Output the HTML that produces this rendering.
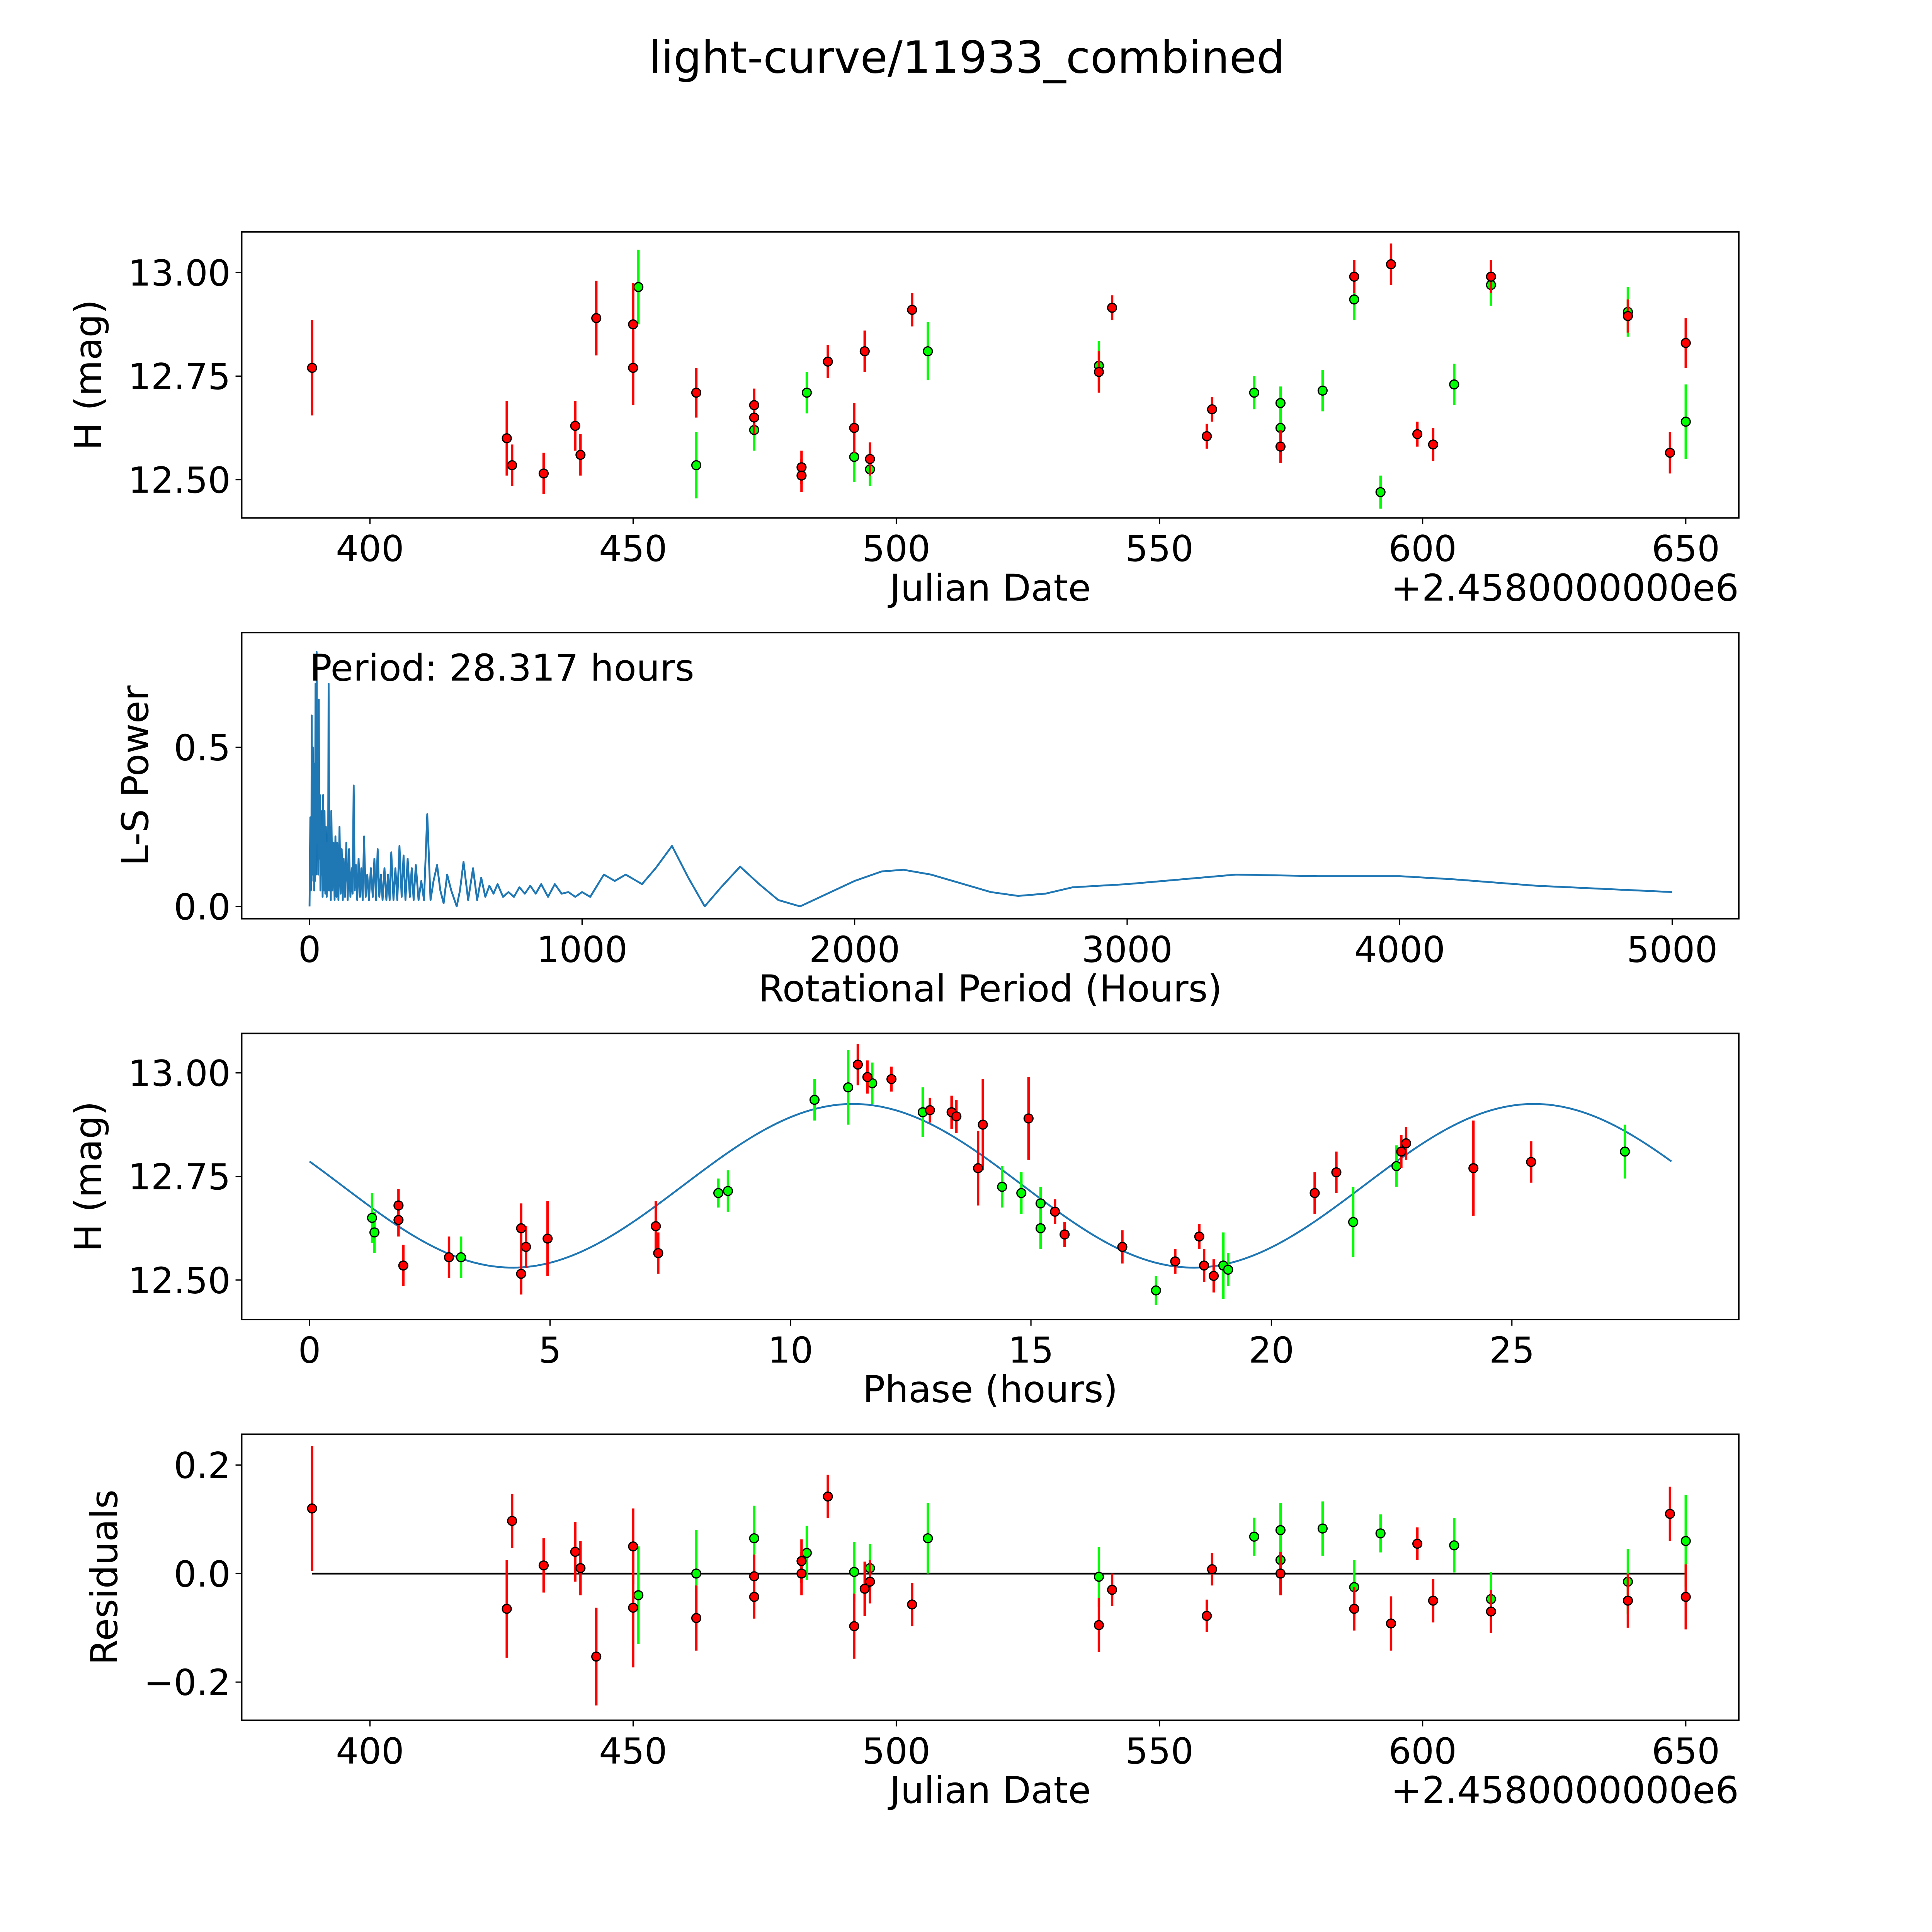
<!DOCTYPE html>
<html><head><meta charset="utf-8"><style>
html,body{margin:0;padding:0;background:#fff;overflow:hidden;}
svg{display:block;font-family:"DejaVu Sans","Liberation Sans",sans-serif;}
</style></head><body>
<svg id="fig" width="5400" height="5400" viewBox="0 0 1692 1692" xmlns="http://www.w3.org/2000/svg">
<rect width="1692" height="1692" fill="#fff"/>
<text x="784" y="59" font-size="36" text-anchor="middle">light-curve/11933_combined</text>
</svg>
<script>
// ---------- data ----------
const lcRedDate=[389,426,427,433,439,440,443,450,450,462,473,473,482,482,487,492,494,495,503,538.5,541,559,560,573,587,594,599,602,613,639,647,650];
const lcRedMag=[12.77,12.60,12.535,12.515,12.63,12.56,12.89,12.875,12.77,12.71,12.68,12.65,12.53,12.51,12.785,12.625,12.81,12.55,12.91,12.76,12.915,12.605,12.67,12.58,12.99,13.02,12.61,12.585,12.99,12.895,12.565,12.83];
const lcRedErr=[0.115,0.09,0.05,0.05,0.06,0.05,0.09,0.1,0.09,0.06,0.04,0.04,0.04,0.04,0.04,0.06,0.05,0.04,0.04,0.05,0.03,0.03,0.03,0.04,0.04,0.05,0.03,0.04,0.04,0.04,0.05,0.06];
const lcGreenDate=[451,462,473,483,492,495,506,538.5,568,573,573,581,587,592,606,613,639,650];
const lcGreenMag=[12.965,12.535,12.62,12.71,12.555,12.525,12.81,12.775,12.71,12.685,12.625,12.715,12.935,12.47,12.73,12.97,12.905,12.64];
const lcGreenErr=[0.09,0.08,0.05,0.05,0.06,0.04,0.07,0.06,0.04,0.04,0.05,0.05,0.05,0.04,0.05,0.05,0.06,0.09];

const lsPeriod=[0,3,5,7,8,10,12,14,15,17,
18,20,22,24,26,28,30,32,34,36,
38,40,42,44,46,48,50,53,55,58,
60,63,65,68,70,73,75,78,80,84,
88,92,95,99,102,106,110,114,118,122,
125,130,135,140,145,150,155,158,162,166,
170,175,180,185,190,195,200,206,212,218,
225,232,238,244,250,256,262,268,275,282,
288,294,300,308,315,322,330,338,345,352,
360,368,375,382,390,400,410,420,432,444,
455,468,480,492,505,520,540,552,565,582,
600,615,630,645,660,675,690,710,730,750,
770,790,810,830,850,875,900,925,950,975,
1000,1030,1080,1120,1160,1220,1270,1330,1390,1450,
1510,1580,1650,1720,1800,1900,2000,2100,2180,2280,
2400,2500,2600,2700,2800,3000,3200,3400,3700,4000,
4200,4500,4750,5000];
const lsPower=[0,0.28,0.05,0.2,0.6,0.1,0.5,0.08,0.45,0.05,
0.3,0.08,0.7,0.1,0.8,0.2,0.4,0.1,0.65,0.15,
0.35,0.05,0.3,0.1,0.25,0.03,0.35,0.05,0.3,0.04,
0.25,0.03,0.2,0.05,0.7,0.05,0.25,0.02,0.3,0.05,
0.2,0.02,0.22,0.03,0.2,0.02,0.25,0.04,0.18,0.02,
0.15,0.03,0.2,0.02,0.18,0.03,0.12,0.04,0.38,0.05,
0.13,0.02,0.15,0.03,0.12,0.02,0.22,0.03,0.1,0.02,
0.12,0.03,0.15,0.02,0.18,0.03,0.1,0.02,0.12,0.02,
0.1,0.02,0.17,0.02,0.12,0.02,0.19,0.03,0.16,0.02,
0.15,0.03,0.12,0.02,0.13,0.02,0.08,0.02,0.29,0.02,
0.08,0.13,0.05,0.01,0.1,0.05,0.0,0.05,0.14,0.02,
0.12,0.02,0.09,0.03,0.065,0.04,0.07,0.03,0.045,0.03,
0.06,0.04,0.065,0.04,0.07,0.03,0.07,0.04,0.045,0.03,
0.045,0.03,0.1,0.08,0.1,0.07,0.12,0.19,0.09,0.0,
0.06,0.125,0.07,0.02,0.0,0.04,0.08,0.11,0.115,0.1,
0.07,0.045,0.033,0.04,0.06,0.07,0.085,0.1,0.095,0.095,
0.085,0.065,0.055,0.045];

const phRedPh=[1.85,1.85,1.95,2.9,4.4,4.4,4.5,4.95,7.2,7.25,11.4,11.6,12.1,12.9,13.35,13.45,13.9,14.0,14.95,15.5,15.7,16.9,18.0,18.5,18.6,18.8,20.9,21.35,22.7,22.8,24.2,25.4];
const phRedMag=[12.68,12.645,12.535,12.555,12.625,12.515,12.58,12.60,12.63,12.565,13.02,12.99,12.985,12.91,12.905,12.895,12.77,12.875,12.89,12.665,12.61,12.58,12.545,12.605,12.535,12.51,12.71,12.76,12.81,12.83,12.77,12.785];
const phRedErr=[0.04,0.04,0.05,0.05,0.06,0.05,0.05,0.09,0.06,0.05,0.05,0.04,0.03,0.03,0.04,0.04,0.09,0.11,0.1,0.03,0.03,0.04,0.03,0.03,0.04,0.04,0.05,0.05,0.04,0.04,0.115,0.05];
const phGreenPh=[1.3,1.35,3.15,8.5,8.7,10.5,11.2,11.7,12.75,14.4,14.8,15.2,15.2,17.6,19.0,19.1,21.7,22.6,27.35];
const phGreenMag=[12.65,12.615,12.555,12.71,12.715,12.935,12.965,12.975,12.905,12.725,12.71,12.685,12.625,12.475,12.535,12.525,12.64,12.775,12.81];
const phGreenErr=[0.06,0.05,0.05,0.035,0.05,0.05,0.09,0.05,0.06,0.05,0.05,0.04,0.05,0.035,0.08,0.04,0.085,0.05,0.065];
const fitMean=12.7275, fitAmp=0.1975, fitPeriodHalf=14.1585, fitPeak=11.3, phaseMax=28.317;

const rsRedDate=[389,426,427,433,439,440,443,450,450,462,473,473,482,482,487,492,494,495,503,538.5,541,559,560,573,587,594,599,602,613,639,647,650];
const rsRedVal=[0.12,-0.065,0.097,0.015,0.04,0.01,-0.153,0.05,-0.063,-0.082,-0.005,-0.043,0.023,0.0,0.142,-0.097,-0.028,-0.015,-0.057,-0.095,-0.03,-0.078,0.008,0.0,-0.065,-0.092,0.055,-0.05,-0.07,-0.05,0.11,-0.043];
const rsRedErr=[0.115,0.09,0.05,0.05,0.055,0.05,0.09,0.07,0.11,0.06,0.04,0.04,0.04,0.04,0.04,0.06,0.05,0.04,0.04,0.05,0.03,0.03,0.03,0.04,0.04,0.05,0.03,0.04,0.04,0.05,0.05,0.06];
const rsGreenDate=[451,462,473,483,492,495,506,538.5,568,573,573,581,587,592,606,613,639,650];
const rsGreenVal=[-0.04,0.0,0.065,0.038,0.003,0.01,0.065,-0.006,0.068,0.08,0.025,0.083,-0.025,0.074,0.052,-0.047,-0.015,0.06];
const rsGreenErr=[0.09,0.08,0.06,0.05,0.055,0.045,0.065,0.055,0.035,0.05,0.05,0.05,0.05,0.035,0.05,0.05,0.06,0.085];

const dateTicks=[400,450,500,550,600,650];
const magTicks=[12.50,12.75,13.00];
const magTickLabels=["12.50","12.75","13.00"];
const lsXTicks=[0,1000,2000,3000,4000,5000];
const lsYTicks=[0.0,0.5];
const lsYTickLabels=["0.0","0.5"];
const phXTicks=[0,5,10,15,20,25];
const rsYTicks=[-0.2,0.0,0.2];
const rsYTickLabels=["\u22120.2","0.0","0.2"];

// ---------- drawing ----------
const svg=document.getElementById('fig');
const NS='http://www.w3.org/2000/svg';
function mk(tag,attrs,parent){const e=document.createElementNS(NS,tag);for(const k in attrs)e.setAttribute(k,attrs[k]);(parent||svg).appendChild(e);return e;}
function scale(d0,d1,p0,p1){return v=>p0+(v-d0)/(d1-d0)*(p1-p0);}
const L=196,R=1410;

function axes(name,top,bot,xs,ys,xt,xtl,yt,ytl,xlab,ylab,ylabX,offset){
  const g=mk('g',{});
  
  
  xt.forEach((t,i)=>{
    const x=xs(t);
    mk('line',{x1:x,x2:x,y1:bot,y2:bot+5,stroke:'#000','stroke-width':1},g);
    const tx=mk('text',{x:x,y:bot+35,'font-size':29,'text-anchor':'middle'},g);
    
    
    tx.textContent=xtl[i];
  });
  yt.forEach((t,i)=>{
    const y=ys(t);
    mk('line',{x1:L-5,x2:L,y1:y,y2:y,stroke:'#000','stroke-width':1},g);
    const tx=mk('text',{x:L-9,y:y+10.5,'font-size':29,'text-anchor':'end'},g);
    
    
    tx.textContent=ytl[i];
  });
  const xl=mk('text',{x:(L+R)/2,y:bot+67,'font-size':30,'text-anchor':'middle'},g);
  
  
  xl.textContent=xlab;
  const cy=(top+bot)/2;
  const yl=mk('text',{x:ylabX,y:cy,'font-size':30,'text-anchor':'middle',transform:`rotate(-90 ${ylabX} ${cy})`},g);
  
  
  yl.textContent=ylab;
  if(offset){
    const o=mk('text',{x:R,y:bot+67,'font-size':30,'text-anchor':'end'},g);
    
    
    o.textContent=offset;
  }
  return g;
}
function frame(top,bot){
  const f=mk('rect',{x:L,y:top,width:R-L,height:bot-top,fill:'none',stroke:'#000','stroke-width':1.2});
  
  
}
function points(xs,ys,X,Y,E,color,name){
  const g=mk('g',{});
  
  
  X.forEach((xv,i)=>{
    const x=xs(xv);
    const eb=mk('line',{x1:x,x2:x,y1:ys(Y[i]-E[i]),y2:ys(Y[i]+E[i]),stroke:color,'stroke-width':2},g);
    
    
  });
  X.forEach((xv,i)=>{
    const c=mk('circle',{cx:xs(xv),cy:ys(Y[i]),r:3.6,fill:color,stroke:'#000','stroke-width':1},g);
    
    
  });
}
const dateLabels=dateTicks.map(String);
const RED='#ff0000',GREEN='#00ff00',BLUE='#1f77b4';

// Panel 1
{
  const top=188,bot=420;
  const xs=scale(400,650,300,1367), ys=scale(12.5,13.0,389,221);
  axes('light-curve-axes',top,bot,xs,ys,dateTicks,dateLabels,magTicks,magTickLabels,'Julian Date','H (mag)',82,'+2.4580000000e6');
  points(xs,ys,lcGreenDate,lcGreenMag,lcGreenErr,GREEN,'green-series');
  points(xs,ys,lcRedDate,lcRedMag,lcRedErr,RED,'red-series');
  frame(top,bot);
}
// Panel 2
{
  const top=513,bot=745;
  const xs=scale(0,5000,251,1356), ys=scale(0,0.5,735,606);
  axes('periodogram-axes',top,bot,xs,ys,lsXTicks,lsXTicks.map(String),lsYTicks,lsYTickLabels,'Rotational Period (Hours)','L-S Power',120,null);
  const n=Math.min(lsPeriod.length,lsPower.length);
  const parts=[];
  for(let i=0;i<n;i++)parts.push((i?'L':'M')+xs(lsPeriod[i]).toFixed(2)+' '+ys(lsPower[i]).toFixed(2));
  const pl=mk('path',{d:parts.join(' '),fill:'none',stroke:BLUE,'stroke-width':1.5,'stroke-linejoin':'round'});
  
  
  const t=mk('text',{x:251,y:552,'font-size':30});
  
  
  t.textContent='Period: 28.317 hours';
  frame(top,bot);
}
// Panel 3
{
  const top=838,bot=1070;
  const xs=scale(0,25,251,1226), ys=scale(12.5,13.0,1038,870);
  axes('phase-axes',top,bot,xs,ys,phXTicks,phXTicks.map(String),magTicks,magTickLabels,'Phase (hours)','H (mag)',82,null);
  const pts=[];
  for(let k=0;k<=300;k++){const p=phaseMax*k/300;const m=fitMean+fitAmp*Math.sin(2*Math.PI*(p-fitPeak)/fitPeriodHalf+Math.PI/2);pts.push((k?'L':'M')+xs(p).toFixed(2)+' '+ys(m).toFixed(2));}
  const fl=mk('path',{d:pts.join(' '),fill:'none',stroke:BLUE,'stroke-width':1.5});
  
  
  points(xs,ys,phGreenPh,phGreenMag,phGreenErr,GREEN,'green-series');
  points(xs,ys,phRedPh,phRedMag,phRedErr,RED,'red-series');
  frame(top,bot);
}
// Panel 4
{
  const top=1163,bot=1395;
  const xs=scale(400,650,300,1367), ys=scale(0,0.2,1276,1188);
  axes('residuals-axes',top,bot,xs,ys,dateTicks,dateLabels,rsYTicks,rsYTickLabels,'Julian Date','Residuals',95,'+2.4580000000e6');
  const zl=mk('line',{x1:xs(389),x2:xs(650),y1:ys(0),y2:ys(0),stroke:'#000','stroke-width':1.5});
  
  
  points(xs,ys,rsGreenDate,rsGreenVal,rsGreenErr,GREEN,'green-series');
  points(xs,ys,rsRedDate,rsRedVal,rsRedErr,RED,'red-series');
  frame(top,bot);
}
</script>
</body></html>
